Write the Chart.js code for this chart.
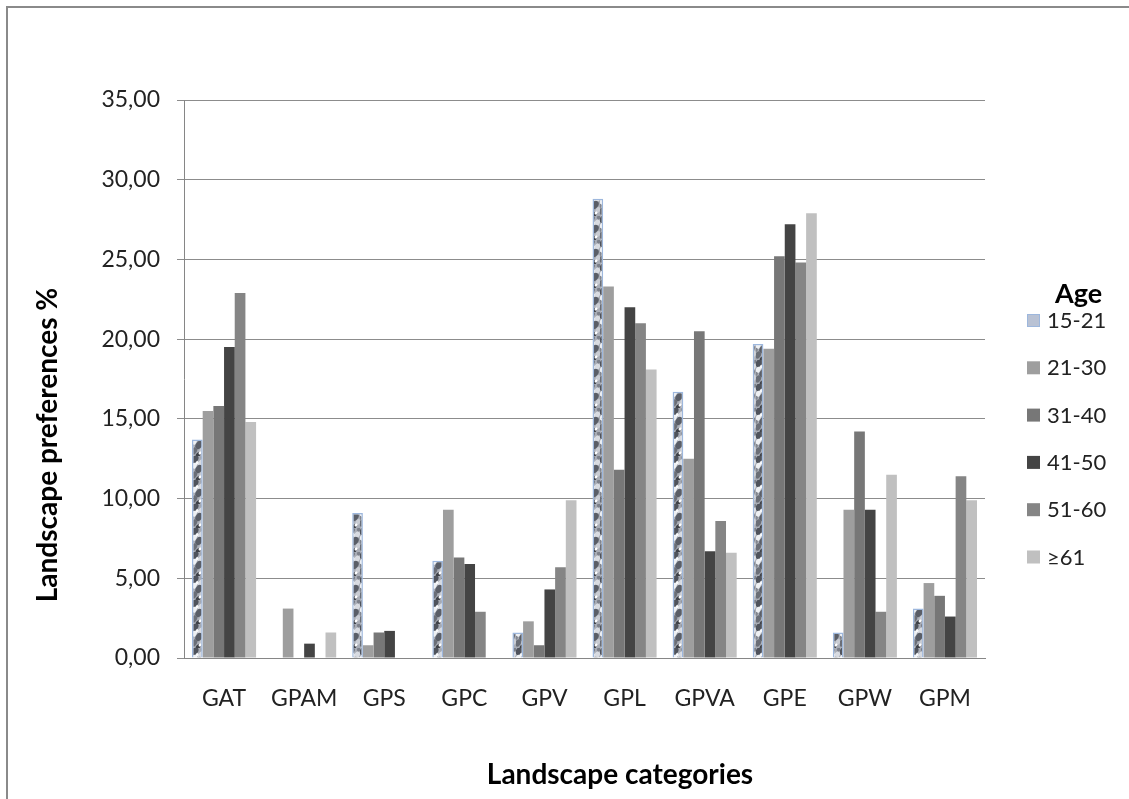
<!DOCTYPE html>
<html lang="en">
<head>
    <meta charset="UTF-8">
    <title>Landscape preferences by age</title>
    <script src="https://cdn.jsdelivr.net/npm/chart.js"></script>
    <style>
        body {
            margin: 0;
            background: #fff;
            overflow: hidden;
        }
        .frame {
            position: absolute;
            left: 6px;
            top: 6px;
            width: 1200px;
            height: 900px;
            border-left: 2px solid #8a8a8a;
            border-top: 2px solid #8a8a8a;
        }
        .wrap {
            position: absolute;
            left: 0;
            top: 0;
            width: 1129px;
            height: 799px;
        }
    </style>
</head>
<body>
    <div class="frame"></div>
    <div class="wrap">
        <canvas id="chart" width="1129" height="799"></canvas>
    </div>

    <script>
        // data
        const categories = ['GAT', 'GPAM', 'GPS', 'GPC', 'GPV', 'GPL', 'GPVA', 'GPE', 'GPW', 'GPM'];
        const ageGroups = ['15-21', '21-30', '31-40', '41-50', '51-60', '≥61'];
        const age15to21 = [13.7, 0, 9.1, 6.1, 1.6, 28.8, 16.7, 19.7, 1.6, 3.1];
        const age21to30 = [15.5, 3.1, 0.8, 9.3, 2.3, 23.3, 12.5, 19.4, 9.3, 4.7];
        const age31to40 = [15.8, 0, 1.6, 6.3, 0.8, 11.8, 20.5, 25.2, 14.2, 3.9];
        const age41to50 = [19.5, 0.9, 1.7, 5.9, 4.3, 22.0, 6.7, 27.2, 9.3, 2.6];
        const age51to60 = [22.9, 0, 0, 2.9, 5.7, 21.0, 8.6, 24.8, 2.9, 11.4];
        const age61plus = [14.8, 1.6, 0, 0, 9.9, 18.1, 6.6, 27.9, 11.5, 9.9];
        const yTicks = [0, 5, 10, 15, 20, 25, 30, 35];

        const yTitle = 'Landscape preferences %';
        const xTitle = 'Landscape categories';
        const legendTitle = 'Age';

        // marbled "granite" fill for the first series
        function granite() {
            const c = document.createElement('canvas');
            c.width = 12;
            c.height = 24;
            const g = c.getContext('2d');
            g.fillStyle = '#a9adb6';
            g.fillRect(0, 0, 12, 24);
            const spots = [
                [3, 3, 3, '#4f535c'], [9, 7, 2.6, '#d8dbe1'], [2, 10, 2.4, '#eef0f3'],
                [7, 13, 3.2, '#5a5e67'], [10, 18, 2.2, '#c9ccd3'], [2, 19, 2.8, '#6a6e77'],
                [6, 23, 2, '#3f4249'], [11, 1, 1.8, '#7c808a'], [5, 7, 1.4, '#f7f8fa'],
                [0, 14, 1.6, '#82868f'], [8, 21, 1.2, '#ffffff']
            ];
            spots.forEach(([x, y, r, col]) => {
                g.fillStyle = col;
                g.beginPath();
                g.ellipse(x, y, r, r * 1.4, 0.6, 0, Math.PI * 2);
                g.fill();
            });
            return g.createPattern(c, 'repeat');
        }

        const seriesValues = [age15to21, age21to30, age31to40, age41to50, age51to60, age61plus];
        const fills = [granite(), '#9e9e9e', '#777777', '#444444', '#858585', '#c0c0c0'];
        const legendSwatch = ['#b9c2d4', '#9e9e9e', '#777777', '#444444', '#858585', '#c0c0c0'];

        const datasets = ageGroups.map((label, i) => ({
            label,
            data: seriesValues[i],
            backgroundColor: fills[i],
            borderColor: i === 0 ? '#9db7dd' : fills[i],
            borderWidth: i === 0 ? 1.5 : 0,
            barPercentage: 1,
            categoryPercentage: 0.8
        }));

        // titles and legend are placed by hand, like the original
        const extras = {
            id: 'extras',
            afterDraw(chart) {
                const ctx = chart.ctx;
                ctx.save();
                ctx.fillStyle = '#000';
                ctx.textAlign = 'center';
                ctx.textBaseline = 'middle';
                ctx.font = 'bold 28px Lato';
                ctx.fillText(xTitle, 620, 775);

                ctx.save();
                ctx.translate(48, 445);
                ctx.rotate(-Math.PI / 2);
                ctx.fillText(yTitle, 0, 0);
                ctx.restore();

                ctx.textAlign = 'left';
                ctx.font = 'bold 27px Lato';
                ctx.fillText(legendTitle, 1055, 294);

                ctx.font = '22px Lato';
                chart.data.datasets.forEach((ds, i) => {
                    const y = 320 + i * 47.3;
                    ctx.fillStyle = legendSwatch[i];
                    ctx.fillRect(1027, y - 6, 13, 13);
                    if (i === 0) {
                        ctx.strokeStyle = '#9db7dd';
                        ctx.lineWidth = 1;
                        ctx.strokeRect(1027.5, y - 5.5, 12, 12);
                    }
                    ctx.fillStyle = '#222';
                    ctx.fillText(ds.label, 1047, y + 1);
                });
                ctx.restore();
            }
        };

        new Chart(document.getElementById('chart'), {
            type: 'bar',
            data: { labels: categories, datasets },
            options: {
                responsive: false,
                animation: false,
                layout: { padding: { left: 64, right: 144, top: 100, bottom: 81 } },
                plugins: {
                    legend: { display: false },
                    tooltip: { enabled: false }
                },
                scales: {
                    x: {
                        afterFit: s => { s.height = 60; },
                        grid: { display: false, drawTicks: false },
                        border: { display: true, color: '#868686', width: 1 },
                        ticks: {
                            color: '#222',
                            padding: 27,
                            font: { family: 'Lato', size: 23 }
                        }
                    },
                    y: {
                        min: 0,
                        max: 35,
                        afterFit: s => { s.width = 120; },
                        afterBuildTicks: s => { s.ticks = yTicks.map(v => ({ value: v })); },
                        grid: { color: '#8c8c8c', tickLength: 7, lineWidth: 1 },
                        border: { display: true, color: '#868686', width: 1 },
                        ticks: {
                            color: '#222',
                            padding: 17,
                            font: { family: 'Lato', size: 23 },
                            callback: v => v.toFixed(2).replace('.', ',')
                        }
                    }
                }
            },
            plugins: [extras]
        });
    </script>
</body>
</html>
